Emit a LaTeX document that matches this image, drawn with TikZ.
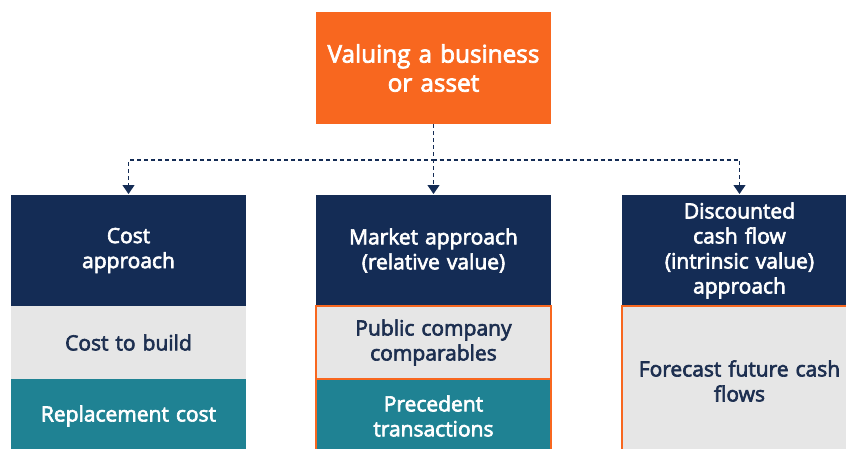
\documentclass[tikz,border=0pt]{standalone}
\usepackage{fontspec}
\setmainfont{Open Sans}[FakeBold=3]
\usetikzlibrary{positioning,arrows.meta}

\definecolor{vorange}{HTML}{F8671F}
\definecolor{vnavy}{HTML}{142C55}
\definecolor{vteal}{HTML}{1F8293}
\definecolor{vgray}{HTML}{E6E6E6}
\definecolor{vtext}{HTML}{1D2F50}

\newcommand\cellfont{\fontsize{21}{25}\selectfont}
\newcommand\topfont{\fontsize{24.3}{29}\selectfont}

\tikzset{
  box/.style={anchor=north west, minimum width=235pt, inner sep=0pt, outer sep=0pt,
    text width=230pt, align=center, font=\cellfont},
  titlebox/.style={box, fill=vorange, text=white, minimum height=112pt, font=\topfont},
  headbox/.style={box, fill=vnavy, text=white, minimum height=111pt},
  itembox/.style={box, fill=vgray, text=vtext, minimum height=73pt},
  tealbox/.style={box, fill=vteal, text=white, minimum height=74pt},
  hilite/.style={draw=vorange, line width=2pt},
  conn/.style={vnavy, line width=1.1pt, dash pattern=on 4pt off 3pt,
    -{Triangle[width=12pt,length=9pt]}, shorten >=1pt}
}

\begin{document}
\begin{tikzpicture}[x=1pt,y=-1pt]
    \useasboundingbox (0,0) rectangle (846,448);
    \clip (0,0) rectangle (846,448);

    \node[titlebox] (title) at (316,12) {Valuing a business\\or asset};

    \node[headbox] (cost) at (11,195) {Cost\\approach};
    \node[itembox, below=0pt of cost] (build) {Cost to build};
    \node[tealbox, below=0pt of build] (replace) {Replacement cost};

    \node[headbox] (market) at (316,195) {Market approach\\(relative value)};
    \node[itembox, hilite, below=0pt of market] (public) {Public company\\comparables};
    \node[tealbox, hilite, below=0pt of public] (precedent) {Precedent\\transactions};

    \node[headbox] (dcf) at (622,195) {Discounted\\cash flow\\(intrinsic value)\\approach};
    \node[itembox, hilite, minimum height=150pt, below=0pt of dcf] (forecast) {Forecast future cash\\flows};

    \draw[conn] (title.south) -- (market.north);
    \draw[conn] (title.south) -- ++(0,36) -| (cost.north);
    \draw[conn] (title.south) -- ++(0,36) -| (dcf.north);
\end{tikzpicture}
\end{document}
